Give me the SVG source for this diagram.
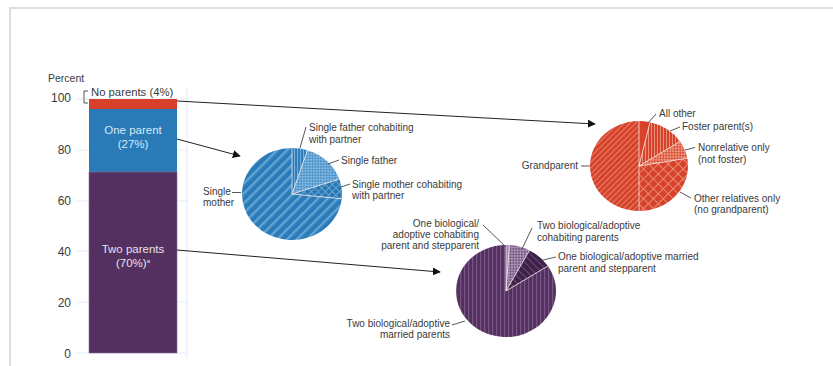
<svg xmlns="http://www.w3.org/2000/svg" width="833" height="366" viewBox="0 0 833 366">
<style>
text{font-family:"Liberation Sans",Arial,sans-serif;fill:#3a3a3a;font-size:10px}
.ax{font-size:12px;text-anchor:end}
.inbar{font-size:11.5px;text-anchor:middle;fill:#e6e0ec}
.grid{stroke:#e4eef7;stroke-width:1.2}
.lead{stroke:#444;stroke-width:0.9;fill:none}
.conn{stroke:#222;stroke-width:1;fill:none}
.sep{stroke:#f2e6e6;stroke-width:0.8;fill:none}
.end{text-anchor:end}
</style>
<defs>
<marker id="ah" viewBox="0 0 10 10" refX="9" refY="5" markerWidth="8" markerHeight="8" markerUnits="userSpaceOnUse" orient="auto">
<path d="M0,0 L10,5 L0,10 Z" fill="#111"/>
</marker>
<pattern id="bDiag" patternUnits="userSpaceOnUse" width="7" height="7" patternTransform="rotate(45)">
<rect width="7" height="7" fill="#2b7bb9"/><rect width="2.4" height="7" fill="#62a4d4"/>
</pattern>
<pattern id="bVert" patternUnits="userSpaceOnUse" width="3" height="3">
<rect width="3" height="3" fill="#2b7bb9"/><rect width="1.1" height="3" fill="#72aedb"/>
</pattern>
<pattern id="bCheck" patternUnits="userSpaceOnUse" width="4" height="4" patternTransform="rotate(45)">
<rect width="4" height="4" fill="#4a92c8"/><rect width="2" height="2" fill="#84bae2"/><rect x="2" y="2" width="2" height="2" fill="#84bae2"/>
</pattern>
<pattern id="bCross" patternUnits="userSpaceOnUse" width="5" height="5" patternTransform="rotate(45)">
<rect width="5" height="5" fill="#2a76b2"/><rect width="0.9" height="5" fill="#68a8d8"/><rect width="5" height="0.9" fill="#68a8d8"/>
</pattern>
<pattern id="rDiag" patternUnits="userSpaceOnUse" width="4" height="4" patternTransform="rotate(45)">
<rect width="4" height="4" fill="#d7422a"/><rect width="1" height="4" fill="#e6806a"/>
</pattern>
<pattern id="rVert" patternUnits="userSpaceOnUse" width="3" height="3">
<rect width="3" height="3" fill="#d7422a"/><rect width="1" height="3" fill="#ea907a"/>
</pattern>
<pattern id="rCheck" patternUnits="userSpaceOnUse" width="4" height="4" patternTransform="rotate(45)">
<rect width="4" height="4" fill="#dc5238"/><rect width="2" height="2" fill="#ec9882"/><rect x="2" y="2" width="2" height="2" fill="#ec9882"/>
</pattern>
<pattern id="rCross" patternUnits="userSpaceOnUse" width="7" height="7" patternTransform="rotate(45)">
<rect width="7" height="7" fill="#d7422a"/><rect width="0.9" height="7" fill="#ea907a"/><rect width="7" height="0.9" fill="#ea907a"/>
</pattern>
<pattern id="pVert" patternUnits="userSpaceOnUse" width="4" height="4">
<rect width="4" height="4" fill="#54305f"/><rect width="1.2" height="4" fill="#765584"/>
</pattern>
<pattern id="pCheck" patternUnits="userSpaceOnUse" width="4" height="4" patternTransform="rotate(45)">
<rect width="4" height="4" fill="#7a5a86"/><rect width="2" height="2" fill="#ad96b8"/><rect x="2" y="2" width="2" height="2" fill="#ad96b8"/>
</pattern>
<pattern id="pDark" patternUnits="userSpaceOnUse" width="5" height="5" patternTransform="rotate(-45)">
<rect width="5" height="5" fill="#3e2148"/><rect width="1" height="5" fill="#6c4c78"/>
</pattern>
</defs>

<rect width="833" height="366" fill="#ffffff"/>
<path d="M10,366 V8 H833" fill="none" stroke="#dedede" stroke-width="2"/>

<g id="axis">
<line class="grid" x1="187" y1="88" x2="187" y2="358"/>
<line class="grid" x1="77" y1="99" x2="188" y2="99"/>
<line class="grid" x1="77" y1="150" x2="188" y2="150"/>
<line class="grid" x1="77" y1="201" x2="188" y2="201"/>
<line class="grid" x1="77" y1="251" x2="188" y2="251"/>
<line class="grid" x1="77" y1="302" x2="188" y2="302"/>
<line class="grid" x1="77" y1="353" x2="188" y2="353"/>
<text x="48" y="82" style="font-size:10.5px">Percent</text>
<text class="ax" x="71" y="102">100</text>
<text class="ax" x="71" y="154">80</text>
<text class="ax" x="71" y="205">60</text>
<text class="ax" x="71" y="256">40</text>
<text class="ax" x="71" y="307">20</text>
<text class="ax" x="71" y="358">0</text>
</g>

<g id="bar">
<rect x="89" y="99" width="88" height="10" fill="#d7402a"/>
<rect x="89" y="109" width="88" height="63" fill="#2a7ab8"/>
<rect x="89" y="172" width="88" height="181" fill="#53305f" stroke="#8c6f98" stroke-width="0.6"/>
<path d="M88,91 H84 V103 H88" fill="none" stroke="#444" stroke-width="0.9"/>
<text x="91" y="96" style="font-size:11.3px">No parents (4%)</text>
<text class="inbar" x="133" y="134" style="fill:#d9e8f4">One parent</text>
<text class="inbar" x="133" y="148" style="fill:#d9e8f4">(27%)</text>
<text class="inbar" x="133" y="253">Two parents</text>
<text class="inbar" x="133" y="267">(70%)<tspan style="font-size:6px" dy="-4">a</tspan></text>
</g>

<g id="connectors">
<line class="conn" x1="177" y1="101" x2="595" y2="124" marker-end="url(#ah)"/>
<line class="conn" x1="177" y1="139" x2="240" y2="156" marker-end="url(#ah)"/>
<line class="conn" x1="177" y1="250" x2="440" y2="272" marker-end="url(#ah)"/>
</g>

<g id="pie-one-parent">
<path d="M292,194 L341.73,198.81 A50,46 0 1,1 292,148 Z" fill="url(#bDiag)"/>
<path d="M292,194 L292,148 A50,46 0 0,1 307.45,150.25 Z" fill="url(#bVert)"/>
<path d="M292,194 L307.45,150.25 A50,46 0 0,1 339.28,179.02 Z" fill="url(#bCheck)"/>
<path d="M292,194 L339.28,179.02 A50,46 0 0,1 341.73,198.81 Z" fill="url(#bCross)"/>
<path class="sep" d="M292,148 L292,194 L307.45,150.25 M292,194 L339.28,179.02 M292,194 L341.73,198.81" stroke="#cfe3f3"/>
<line class="lead" x1="300" y1="148" x2="306" y2="127"/>
<text x="309" y="131">Single father cohabiting</text>
<text x="309" y="143">with partner</text>
<line class="lead" x1="328" y1="164" x2="339" y2="160"/>
<text x="341" y="164">Single father</text>
<line class="lead" x1="341" y1="187" x2="350" y2="184"/>
<text x="352" y="188">Single mother cohabiting</text>
<text x="352" y="199">with partner</text>
<line class="lead" x1="232" y1="192.5" x2="241" y2="192.5"/>
<text x="203" y="195">Single</text>
<text x="203" y="206">mother</text>
</g>

<g id="pie-no-parents">
<path d="M639,166 L639,211 A49,45 0 0,1 639,121 Z" fill="url(#rDiag)"/>
<path d="M639,166 L639,121 A49,45 0 0,1 650.02,122.15 Z" fill="#d7422a"/>
<path d="M639,166 L650.02,122.15 A49,45 0 0,1 680.10,141.49 Z" fill="url(#rVert)"/>
<path d="M639,166 L680.10,141.49 A49,45 0 0,1 687.26,158.19 Z" fill="url(#rCheck)"/>
<path d="M639,166 L687.26,158.19 A49,45 0 0,1 639,211 Z" fill="url(#rCross)"/>
<path class="sep" d="M639,121 L639,211 M639,166 L650.02,122.15 M639,166 L680.10,141.49 M639,166 L687.26,158.19"/>
<line class="lead" x1="648" y1="123" x2="656" y2="114"/>
<text x="659" y="117">All other</text>
<line class="lead" x1="670" y1="131" x2="680" y2="127"/>
<text x="682" y="130">Foster parent(s)</text>
<line class="lead" x1="685" y1="150" x2="695" y2="147.5"/>
<text x="698" y="151">Nonrelative only</text>
<text x="698" y="163">(not foster)</text>
<line class="lead" x1="680" y1="192" x2="691" y2="198"/>
<text x="694" y="202">Other relatives only</text>
<text x="694" y="213">(no grandparent)</text>
<line class="lead" x1="581" y1="166" x2="590" y2="166"/>
<text class="end" x="578" y="169">Grandparent</text>
</g>

<g id="pie-two-parents">
<path d="M506,291 L547.93,265.95 A50,46 0 1,1 506,245 Z" fill="url(#pVert)"/>
<path d="M506,291 L506,245 A50,46 0 0,1 509.49,245.11 Z" fill="#a58db0"/>
<path d="M506,291 L509.49,245.11 A50,46 0 0,1 529.47,250.39 Z" fill="url(#pCheck)"/>
<path d="M506,291 L529.47,250.39 A50,46 0 0,1 547.93,265.95 Z" fill="url(#pDark)"/>
<path class="sep" d="M506,245 L506,291 L509.49,245.11 M506,291 L529.47,250.39 M506,291 L547.93,265.95" stroke="#c8b6d0"/>
<line class="lead" x1="483" y1="225" x2="506" y2="247"/>
<text class="end" x="479" y="227">One biological/</text>
<text class="end" x="479" y="238">adoptive cohabiting</text>
<text class="end" x="479" y="249">parent and stepparent</text>
<line class="lead" x1="532" y1="228" x2="522" y2="249"/>
<text x="537" y="229">Two biological/adoptive</text>
<text x="537" y="241">cohabiting parents</text>
<line class="lead" x1="543" y1="260" x2="556" y2="257"/>
<text x="558" y="260">One biological/adoptive married</text>
<text x="558" y="272">parent and stepparent</text>
<line class="lead" x1="452" y1="325" x2="465" y2="321"/>
<text class="end" x="450" y="327">Two biological/adoptive</text>
<text class="end" x="450" y="338">married parents</text>
</g>
</svg>
